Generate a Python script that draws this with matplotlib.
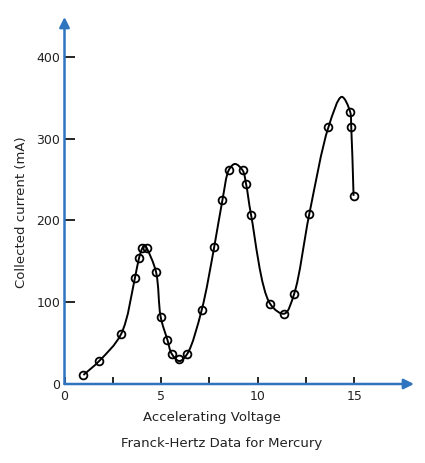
import numpy as np
import matplotlib
matplotlib.use("Agg")
import matplotlib.pyplot as plt
from matplotlib.path import Path
from matplotlib.patches import PathPatch

# measured points (accelerating voltage, collected current)
volts = [0.98, 1.79, 2.93, 3.65, 3.86, 4.03, 4.26, 4.74, 4.98, 5.33, 5.55, 5.95,
         6.36, 7.10, 7.75, 8.18, 8.52, 9.23, 9.40, 9.66, 10.65, 11.39, 11.89,
         12.68, 13.67, 14.79, 14.85, 14.97]
current = [11, 28, 61, 130, 154, 166, 166, 137, 82, 54, 37, 30,
           37, 90, 167, 225, 262, 261, 245, 207, 98, 86, 110,
           208, 314, 333, 314, 230]

# knots of the hand drawn curve (points plus the peaks it runs over)
curve_v = [0.98, 1.79, 2.93, 3.65, 3.86, 4.03, 4.15, 4.26, 4.74, 4.98, 5.33, 5.55,
           5.95, 6.36, 7.10, 7.75, 8.18, 8.52, 8.83, 9.23, 9.40, 9.66, 10.65,
           11.39, 11.89, 12.68, 13.67, 14.36, 14.79, 14.85, 14.97]
curve_i = [11, 28, 61, 130, 154, 166, 170, 166, 137, 82, 54, 37,
           28, 37, 90, 167, 225, 262, 269, 261, 245, 207, 98,
           86, 110, 208, 314, 351, 333, 314, 230]

xticks = [0, 5, 10, 15]
xminor = [2.5, 7.5, 12.5]
yticks = [0, 100, 200, 300, 400]

blue = "#2f74bf"
txt = "#222222"

fig = plt.figure(figsize=(4.25, 4.63), dpi=100)
ax = fig.add_axes([64.5 / 425, 79 / 463, (414 - 64.5) / 425, (384 - 17) / 463])
ax.set_xlim(0, 18.1)
ax.set_ylim(0, 448.6)

for s in ax.spines.values():
    s.set_visible(False)

# axes as blue arrows
for end in [(1, 0), (0, 1)]:
    ax.annotate("", xy=end, xytext=(0, 0), xycoords="axes fraction",
                arrowprops=dict(arrowstyle="-|>,head_length=0.6,head_width=0.3",
                                color=blue, lw=1.8, shrinkA=0, shrinkB=0),
                annotation_clip=False)

ax.set_xticks(xticks)
ax.set_xticks(xminor, minor=True)
ax.set_yticks(yticks)
ax.tick_params(axis="both", which="both", direction="in", color="black",
               width=1.2, labelsize=9, labelcolor=txt)
ax.tick_params(axis="x", which="both", length=5, pad=4)
ax.tick_params(axis="y", length=7, pad=3)

# smooth curve: centripetal Catmull-Rom turned into cubic Bezier segments
sx, sy = 19.3, 0.818
P = np.column_stack([np.array(curve_v) * sx, np.array(curve_i) * sy])
P = np.vstack([2 * P[0] - P[1], P, 2 * P[-1] - P[-2]])
verts = [(curve_v[0], curve_i[0])]
codes = [Path.MOVETO]
for k in range(1, len(P) - 2):
    p0, p1, p2, p3 = P[k - 1], P[k], P[k + 1], P[k + 2]
    d1 = np.linalg.norm(p1 - p0) ** 0.5
    d2 = np.linalg.norm(p2 - p1) ** 0.5
    d3 = np.linalg.norm(p3 - p2) ** 0.5
    t1 = ((p1 - p0) / d1 - (p2 - p0) / (d1 + d2) + (p2 - p1) / d2) * d2
    t2 = ((p2 - p1) / d2 - (p3 - p1) / (d2 + d3) + (p3 - p2) / d3) * d2
    for c in (p1 + t1 / 3, p2 - t2 / 3, p2):
        verts.append((c[0] / sx, c[1] / sy))
    codes += [Path.CURVE4] * 3
ax.add_patch(PathPatch(Path(verts, codes), fill=False, lw=1.4, ec="black"))

ax.plot(volts, current, "o", ms=5.6, mfc="none", mec="black", mew=1.3)

fig.text(212 / 425, 1 - 418 / 463, "Accelerating Voltage", ha="center",
         va="center", fontsize=9.5, color=txt)
fig.text(22 / 425, 1 - 212 / 463, "Collected current (mA)", ha="center",
         va="center", rotation=90, fontsize=9.5, color=txt)
fig.text(222 / 425, 1 - 443 / 463, "Franck-Hertz Data for Mercury", ha="center",
         va="center", fontsize=9.5, color=txt)

fig.savefig("out.png", dpi=100, facecolor="white")
